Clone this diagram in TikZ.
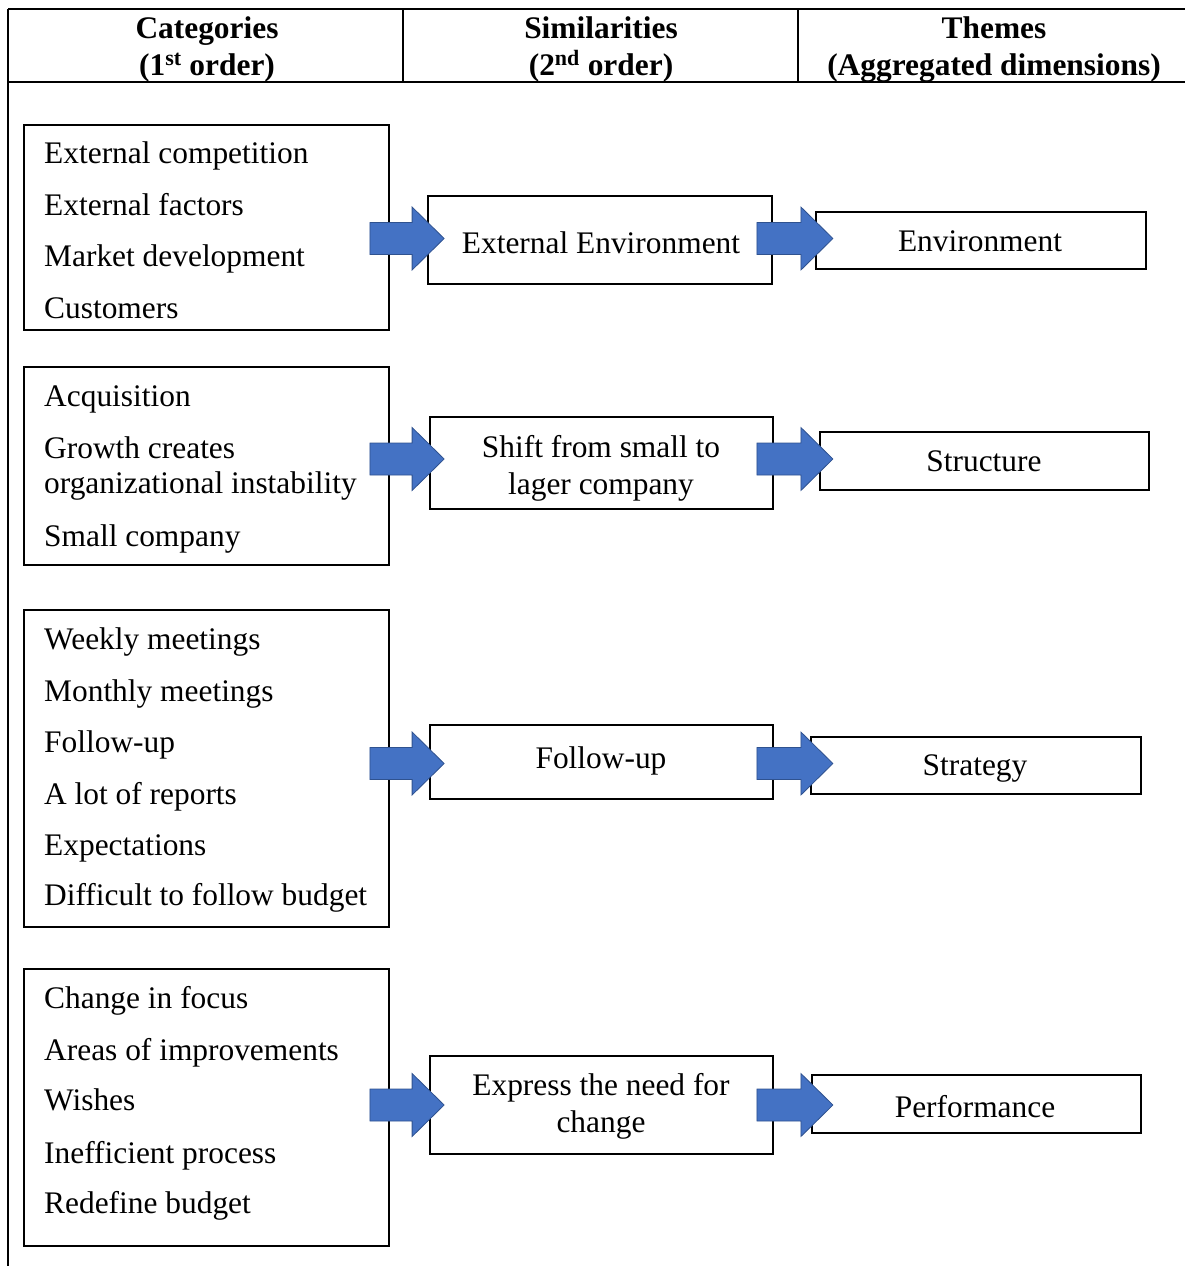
\documentclass[tikz,border=0pt]{standalone}
\usepackage{fontspec}
\setmainfont{Liberation Serif}
\usetikzlibrary{calc}
\definecolor{arrowfill}{HTML}{4472C4}
\definecolor{arrowline}{HTML}{2F528F}
\tikzset{
  box/.style={draw=black, line width=1.8pt, inner sep=0pt, fill=none},
  itemtext/.style={anchor=base west, inner sep=0pt, font=\fontsize{31.4}{36}\selectfont},
  ctext/.style={anchor=base, inner sep=0pt, font=\fontsize{31.4}{36}\selectfont},
  htext/.style={anchor=base, inner sep=0pt, font=\fontsize{31.4}{36}\selectfont\bfseries},
  barrow/.style={fill=arrowfill, draw=arrowline, line width=0.8pt, line join=miter},
  rule/.style={line width=1.8pt}
}
\newcommand\blockarrow[2]{\filldraw[barrow] let \p1=(#1), \p2=(#2) in
  (\x1,\y1+16) -- (\x2-32,\y1+16) -- (\x2-32,\y1+31.5) -- (\x2,\y1) --
  (\x2-32,\y1-31.5) -- (\x2-32,\y1-16) -- (\x1,\y1-16) -- cycle;}
\begin{document}
\begin{tikzpicture}[x=1pt,y=-1pt]
\useasboundingbox (0,0) rectangle (1185,1266);
% table frame
\coordinate (tl) at (8,9);
\coordinate (tr) at (1185,9);
\coordinate (hl) at (8,82);
\coordinate (hr) at (1185,82);
\coordinate (bl) at (8,1266);
\coordinate (d1t) at (403,9);
\coordinate (d1b) at (403,82);
\coordinate (d2t) at (798,9);
\coordinate (d2b) at (798,82);
\draw[rule] (tl) -- (tr);
\draw[rule] (hl) -- (hr);
\draw[rule] (tl) -- (bl);
\draw[rule] (d1t) -- (d1b);
\draw[rule] (d2t) -- (d2b);
% headers
\node[htext] (h1a) at (207,38) {Categories};
\node[htext] (h1b) at (207,75) {(1\textsuperscript{st} order)};
\node[htext] (h2a) at (601,38) {Similarities};
\node[htext] (h2b) at (601,75) {(2\textsuperscript{nd} order)};
\node[htext] (h3a) at (994,38) {Themes};
\node[htext] (h3b) at (994,75) {(Aggregated dimensions)};
% left boxes
\node[box, minimum width=365pt, minimum height=205pt] (L1) at (206.5,227.5) {};
\node[box, minimum width=365pt, minimum height=198pt] (L2) at (206.5,466) {};
\node[box, minimum width=365pt, minimum height=317pt] (L3) at (206.5,768.5) {};
\node[box, minimum width=365pt, minimum height=277pt] (L4) at (206.5,1107.5) {};
% middle boxes
\node[box, minimum width=344pt, minimum height=88pt] (M1) at (600,240) {};
\node[box, minimum width=343pt, minimum height=92pt] (M2) at (601.5,463) {};
\node[box, minimum width=343pt, minimum height=74pt] (M3) at (601.5,762) {};
\node[box, minimum width=343pt, minimum height=98pt] (M4) at (601.5,1105) {};
% right boxes
\node[box, minimum width=330pt, minimum height=57pt] (R1) at (981,240.5) {};
\node[box, minimum width=329pt, minimum height=58pt] (R2) at (984.5,461) {};
\node[box, minimum width=330pt, minimum height=57pt] (R3) at (976,765.5) {};
\node[box, minimum width=329pt, minimum height=58pt] (R4) at (976.5,1104) {};
% left texts
\node[itemtext] (t11) at (44,163) {External competition};
\node[itemtext] (t12) at (44,215) {External factors};
\node[itemtext] (t13) at (44,266) {Market development};
\node[itemtext] (t14) at (44,318) {Customers};
\node[itemtext] (t21) at (44,406) {Acquisition};
\node[itemtext] (t22) at (44,458) {Growth creates};
\node[itemtext] (t23) at (44,493) {organizational instability};
\node[itemtext] (t24) at (44,546) {Small company};
\node[itemtext] (t31) at (44,649) {Weekly meetings};
\node[itemtext] (t32) at (44,701) {Monthly meetings};
\node[itemtext] (t33) at (44,752) {Follow-up};
\node[itemtext] (t34) at (44,804) {A lot of reports};
\node[itemtext] (t35) at (44,855) {Expectations};
\node[itemtext] (t36) at (44,905) {Difficult to follow budget};
\node[itemtext] (t41) at (44,1008) {Change in focus};
\node[itemtext] (t42) at (44,1060) {Areas of improvements};
\node[itemtext] (t43) at (44,1110) {Wishes};
\node[itemtext] (t44) at (44,1163) {Inefficient process};
\node[itemtext] (t45) at (44,1213) {Redefine budget};
% middle texts
\node[ctext] (m1) at (601,253) {External Environment};
\node[ctext] (m2a) at (601,457) {Shift from small to};
\node[ctext] (m2b) at (601,494) {lager company};
\node[ctext] (m3) at (601,768) {Follow-up};
\node[ctext] (m4a) at (601,1095) {Express the need for};
\node[ctext] (m4b) at (601,1132) {change};
% right texts
\node[ctext] (r1) at (980,251) {Environment};
\node[ctext] (r2) at (984,471) {Structure};
\node[ctext] (r3) at (975,775) {Strategy};
\node[ctext] (r4) at (975,1117) {Performance};
% arrow ends
\coordinate (a1s) at ($(L1.east |- R1.center)+(-20,-2)$);
\coordinate (a1e) at ($(M1.west |- R1.center)+(17,-2)$);
\coordinate (b1s) at ($(M1.east |- R1.center)+(-16,-2)$);
\coordinate (b1e) at ($(M1.east |- R1.center)+(60,-2)$);
\coordinate (a2s) at ($(L2.east |- R2.center)+(-20,-2)$);
\coordinate (a2e) at ($(M2.west |- R2.center)+(15,-2)$);
\coordinate (b2s) at ($(M2.east |- R2.center)+(-17,-2)$);
\coordinate (b2e) at ($(M2.east |- R2.center)+(59,-2)$);
\coordinate (a3s) at ($(L3.east |- R3.center)+(-20,-2)$);
\coordinate (a3e) at ($(M3.west |- R3.center)+(15,-2)$);
\coordinate (b3s) at ($(M3.east |- R3.center)+(-17,-2)$);
\coordinate (b3e) at ($(M3.east |- R3.center)+(59,-2)$);
\coordinate (a4s) at ($(L4.east |- R4.center)+(-20,1)$);
\coordinate (a4e) at ($(M4.west |- R4.center)+(15,1)$);
\coordinate (b4s) at ($(M4.east |- R4.center)+(-17,1)$);
\coordinate (b4e) at ($(M4.east |- R4.center)+(59,1)$);
\blockarrow{a1s}{a1e}
\blockarrow{b1s}{b1e}
\blockarrow{a2s}{a2e}
\blockarrow{b2s}{b2e}
\blockarrow{a3s}{a3e}
\blockarrow{b3s}{b3e}
\blockarrow{a4s}{a4e}
\blockarrow{b4s}{b4e}
\end{tikzpicture}
\end{document}
